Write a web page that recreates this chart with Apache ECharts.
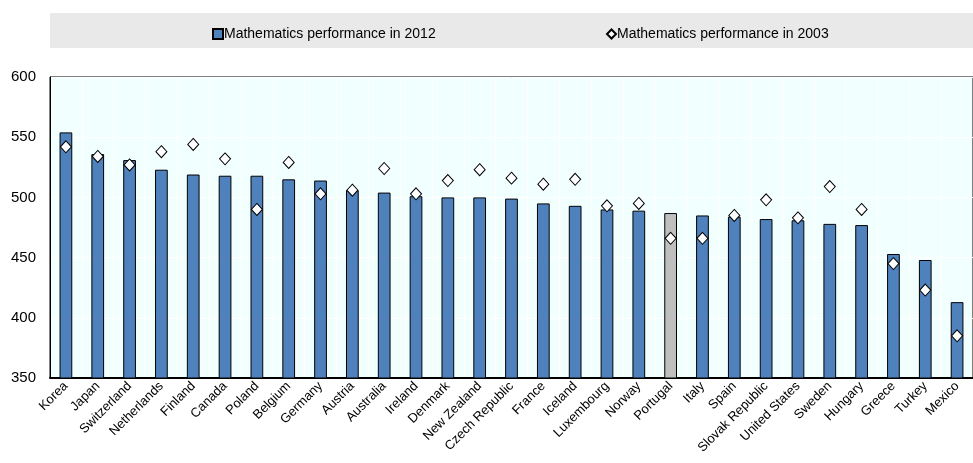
<!DOCTYPE html>
<html><head><meta charset="utf-8">
<script src="https://cdn.jsdelivr.net/npm/echarts@6/dist/echarts.min.js"></script>
<style>html,body{margin:0;padding:0;background:#fff}#c{width:973px;height:463px}</style>
</head><body><div id="c"></div>
<script>
const countries = ["Korea","Japan","Switzerland","Netherlands","Finland","Canada","Poland","Belgium","Germany","Austria","Australia","Ireland","Denmark","New Zealand","Czech Republic","France","Iceland","Luxembourg","Norway","Portugal","Italy","Spain","Slovak Republic","United States","Sweden","Hungary","Greece","Turkey","Mexico"];
const math2012 = [554,536,531,523,519,518,518,515,514,506,504,501,500,500,499,495,493,490,489,487,485,484,482,481,478,477,453,448,413];
const math2003 = [542,534,527,538,544,532,490,529,503,506,524,503,514,523,516,511,515,493,495,466,466,485,498,483,509,490,445,423,385];
const highlight = "Portugal";
const yTicks = {min:350, max:600, interval:50};

const chart = echarts.init(document.getElementById('c'));
const font = 'Arial, "Liberation Sans", sans-serif';
chart.setOption({
  animation:false,
  textStyle:{fontFamily:font},
  graphic:[{type:'rect',shape:{x:50,y:13,width:923,height:35},style:{fill:'#e9e9e9'},z:-1}],
  legend:[
    {data:[{name:'Mathematics performance in 2012',icon:'rect'}],left:207,top:22,itemWidth:10,itemHeight:10,itemGap:0,
     textStyle:{fontSize:14,color:'#000',fontFamily:font,padding:[0,0,0,-4]}},
    {data:[{name:'Mathematics performance in 2003',icon:'diamond'}],left:601,top:22,itemWidth:9,itemHeight:9,
     textStyle:{fontSize:14,color:'#000',fontFamily:font,padding:[0,0,0,-4]}}
  ],
  grid:{left:50,right:0,top:77,bottom:85,show:true,backgroundColor:'#f2ffff',borderColor:'#000',borderWidth:1},
  xAxis:{type:'category',data:countries,
    axisLine:{lineStyle:{color:'#000',width:2}},
    axisTick:{inside:true,length:5,lineStyle:{color:'#000'}},
    splitLine:{show:true,lineStyle:{color:'#ffffff',width:1}},
    axisLabel:{rotate:45,fontSize:13,color:'#000',fontFamily:font,margin:6,interval:0}},
  yAxis:{type:'value',min:yTicks.min,max:yTicks.max,interval:yTicks.interval,
    axisLine:{show:true,lineStyle:{color:'#000',width:1}},
    axisTick:{show:false},
    splitLine:{lineStyle:{color:'#ffffff',width:1}},
    axisLabel:{fontSize:15,color:'#000',fontFamily:font,margin:14}},
  series:[
    {name:'Mathematics performance in 2012',type:'bar',barWidth:'40%',
     data:math2012.map((v,i)=>({value:v,itemStyle:countries[i]===highlight?{color:'#bfbfbf'}:undefined})),
     itemStyle:{color:'#4f81bd',borderColor:'#000',borderWidth:1}},
    {name:'Mathematics performance in 2003',type:'scatter',symbol:'diamond',symbolSize:[11,12],
     data:math2003,itemStyle:{color:'#fff',borderColor:'#000',borderWidth:1,opacity:1},z:5}
  ]
});
</script></body></html>
